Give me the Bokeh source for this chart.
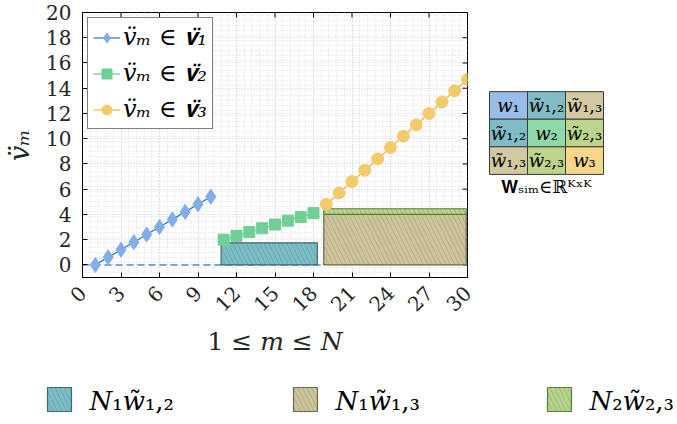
import math
from bokeh.plotting import figure
from bokeh.models import Range1d, FixedTicker, Legend, LegendItem, ColumnDataSource
from bokeh.layouts import column, row
from bokeh.embed import file_html
from bokeh.resources import INLINE
from bokeh.core.properties import value

# ---------------- data ----------------
m1 = [1, 2, 3, 4, 5, 6, 7, 8, 9, 10]
v1 = [0.0, 0.6, 1.2, 1.8, 2.4, 3.0, 3.6, 4.2, 4.8, 5.4]
m2 = [11, 12, 13, 14, 15, 16, 17, 18]
v2 = [2.0, 2.3, 2.6, 2.9, 3.2, 3.5, 3.8, 4.1]
m3 = [19, 20, 21, 22, 23, 24, 25, 26, 27, 28, 29, 30]
v3 = [4.8, 5.7, 6.6, 7.5, 8.4, 9.3, 10.2, 11.1, 12.0, 12.9, 13.8, 14.7]
series_labels = ["v̈ₘ ∈ 𝐯̈₁", "v̈ₘ ∈ 𝐯̈₂", "v̈ₘ ∈ 𝐯̈₃"]
y_label = "v̈ₘ"
x_label = "1 ≤ 𝑚 ≤ 𝑁"

bar_labels = ["𝑁₁𝑤̃₁,₂", "𝑁₁𝑤̃₁,₃", "𝑁₂𝑤̃₂,₃"]
bar_left = [10.8, 18.8, 18.8]
bar_right = [18.3, 29.9, 29.9]
bar_bottom = [0.0, 0.0, 4.0]
bar_top = [1.75, 4.0, 4.45]

baseline_x = [0, 18.8]
baseline_y = [0, 0]

x_ticks = [0, 3, 6, 9, 12, 15, 18, 21, 24, 27, 30]
y_ticks = [0, 2, 4, 6, 8, 10, 12, 14, 16, 18, 20]
X_MAX, Y_MIN, Y_MAX = 30, -1, 20

mat_row = [0, 0, 0, 1, 1, 1, 2, 2, 2]
mat_col = [0, 1, 2, 0, 1, 2, 0, 1, 2]
mat_text = ["𝑤₁", "𝑤̃₁,₂", "𝑤̃₁,₃", "𝑤̃₁,₂", "𝑤₂", "𝑤̃₂,₃", "𝑤̃₁,₃", "𝑤̃₂,₃", "𝑤₃"]
mat_caption = "𝐖ₛᵢₘ∈ℝᴷˣᴷ"

# ---------------- styles ----------------
FONT = "DejaVu Serif"
TXT = "#262626"
c_line = ["#2273c3", "#5fcb8c", "#edb233"]
c_mark = ["#80aee6", "#6fcf95", "#f4cb6c"]
bar_fill = ["#7dbdc5", "#cfc59c", "#b8d58e"]
bar_edge = ["#3d6a6e", "#6e6749", "#5f7c3c"]
bar_hatch = ["#3d7a80", "#7a704c", "#5f7c3c"]
mat_colors = ["#97bde8", "#7fbcc4", "#d3c9a0", "#7fbcc4", "#8fd9a8", "#bcd48c", "#d3c9a0", "#bcd48c", "#f6d78a"]

W_MAIN, H_TOP = 478, 365
W_ALL, H_ALL = 676, 423

# ---------------- main plot ----------------
p = figure(width=W_MAIN, height=H_TOP, x_range=Range1d(0, X_MAX), y_range=Range1d(Y_MIN, Y_MAX),
           output_backend="svg", toolbar_location=None,
           min_border_left=82, min_border_right=11, min_border_top=12, min_border_bottom=88)
p.outline_line_color = "black"
p.outline_line_width = 1

minor_x = [i * 0.6 for i in range(0, 51)]
minor_y = [-1 + i * 0.4 for i in range(0, 53)]
xt = FixedTicker(ticks=x_ticks, minor_ticks=minor_x)
yt = FixedTicker(ticks=y_ticks, minor_ticks=minor_y)

for ax in [p.xaxis[0], p.yaxis[0]]:
    ax.major_label_text_font = FONT
    ax.major_label_text_font_size = "20px"
    ax.major_label_text_color = TXT
    ax.major_tick_in = 5
    ax.major_tick_out = 0
    ax.minor_tick_line_color = None
    ax.axis_line_color = "black"
    ax.major_tick_line_color = "black"
    ax.axis_label_text_font = FONT
    ax.axis_label_text_color = TXT
    ax.axis_label_text_font_style = "normal"
p.xaxis[0].ticker = xt
p.yaxis[0].ticker = yt
p.xaxis[0].major_label_orientation = math.pi / 4
p.xaxis[0].major_label_standoff = 8
p.xaxis[0].axis_label = x_label
p.xaxis[0].axis_label_text_font_size = "25px"
p.xaxis[0].axis_label_standoff = 6
p.yaxis[0].major_label_standoff = 7
p.yaxis[0].axis_label = y_label
p.yaxis[0].axis_label_text_font_size = "27px"
p.yaxis[0].axis_label_text_font_style = "italic"
p.yaxis[0].axis_label_standoff = 8

for g in [p.xgrid[0], p.ygrid[0]]:
    g.grid_line_color = "#d0d0d0"
    g.grid_line_dash = "1 2"
    g.grid_line_width = 1
    g.minor_grid_line_color = "#dcdcdc"
    g.minor_grid_line_dash = "1 2"
    g.minor_grid_line_width = 1

# inward ticks on the top and right edges of the box
p.ray(x=x_ticks, y=[Y_MAX] * len(x_ticks), length=5, length_units="screen",
      angle=-math.pi / 2, line_color="black", line_width=1)
p.ray(x=[X_MAX] * len(y_ticks), y=y_ticks, length=5, length_units="screen",
      angle=math.pi, line_color="black", line_width=1)

p.line(baseline_x, baseline_y, line_color="#4f8fd0", line_width=1.5, line_dash="7 4")

bsrc = ColumnDataSource(dict(left=bar_left, right=bar_right, bottom=bar_bottom, top=bar_top,
                             fill=bar_fill, edge=bar_edge, hatch=bar_hatch))
p.quad(left="left", right="right", bottom="bottom", top="top", source=bsrc,
       fill_color="fill", fill_alpha=1.0, line_color="edge", line_width=1.2,
       hatch_pattern="\\", hatch_color="hatch", hatch_alpha=0.45, hatch_scale=9, hatch_weight=0.8)

items = []
markers = ["diamond", "square", "circle"]
msizes = [15, 11, 12]
for i, (mx, vy) in enumerate([(m1, v1), (m2, v2), (m3, v3)]):
    lr = p.line(mx, vy, line_color=c_line[i], line_width=1.2)
    sr = p.scatter(mx, vy, marker=markers[i], size=msizes[i], fill_color=c_mark[i], line_color=c_mark[i])
    items.append(LegendItem(label=series_labels[i], renderers=[lr, sr]))

leg = Legend(items=items, location="top_left")
leg.label_text_font = FONT
leg.label_text_font_size = "24px"
leg.label_text_font_style = "italic"
leg.label_text_color = "black"
leg.border_line_color = "black"
leg.border_line_width = 1
leg.background_fill_alpha = 1.0
leg.glyph_width = 27
leg.glyph_height = 25
leg.spacing = 8
leg.padding = 5
leg.margin = 5
leg.label_standoff = 3
p.add_layout(leg)

# ---------------- similarity matrix ----------------
CELL = 38.0
W_MAT = W_ALL - W_MAIN
pm = figure(width=W_MAT, height=H_TOP, x_range=Range1d(-11 / CELL, (W_MAT - 11) / CELL),
            y_range=Range1d((H_TOP - 109) / CELL, -109 / CELL),
            output_backend="svg", toolbar_location=None,
            min_border_left=0, min_border_right=0, min_border_top=0, min_border_bottom=0)
pm.axis.visible = False
pm.grid.visible = False
pm.outline_line_color = None
msrc = ColumnDataSource(dict(x=[c + 0.5 for c in mat_col], y=[r + 0.5 for r in mat_row],
                             t=mat_text, c=mat_colors))
pm.rect(x="x", y="y", width=1, height=1, source=msrc, fill_color="c", line_color="#3a3a3a", line_width=1)
pm.text(x="x", y="y", text="t", source=msrc, text_font=value(FONT), text_font_size=value("18px"),
        text_align="center", text_baseline="middle", text_color="black")
pm.text(x=[1.5], y=[3.45], text=[mat_caption], text_font=value(FONT), text_font_size=value("18px"),
        text_align="center", text_baseline="middle", text_color="black")

# ---------------- bottom legend ----------------
H_LEG = H_ALL - H_TOP
leg_x = [47, 293, 547]
pl = figure(width=W_ALL, height=H_LEG, x_range=Range1d(0, W_ALL), y_range=Range1d(H_LEG, 0),
            output_backend="svg", toolbar_location=None,
            min_border_left=0, min_border_right=0, min_border_top=0, min_border_bottom=0)
pl.axis.visible = False
pl.grid.visible = False
pl.outline_line_color = None
lsrc = ColumnDataSource(dict(left=leg_x, right=[x + 24 for x in leg_x],
                             top=[22] * 3, bottom=[46] * 3, fill=bar_fill, edge=bar_edge,
                             hatch=bar_hatch, tx=[x + 42 for x in leg_x], ty=[35] * 3, t=bar_labels))
pl.quad(left="left", right="right", top="top", bottom="bottom", source=lsrc,
        fill_color="fill", line_color="edge", line_width=1.2,
        hatch_pattern="\\", hatch_color="hatch", hatch_alpha=0.45, hatch_scale=9, hatch_weight=0.8)
pl.text(x="tx", y="ty", text="t", source=lsrc, text_font=value(FONT), text_font_size=value("26px"),
        text_align="left", text_baseline="middle", text_color="black")

layout = column(row(p, pm), pl)
open("out.html", "w").write(file_html(layout, INLINE))
